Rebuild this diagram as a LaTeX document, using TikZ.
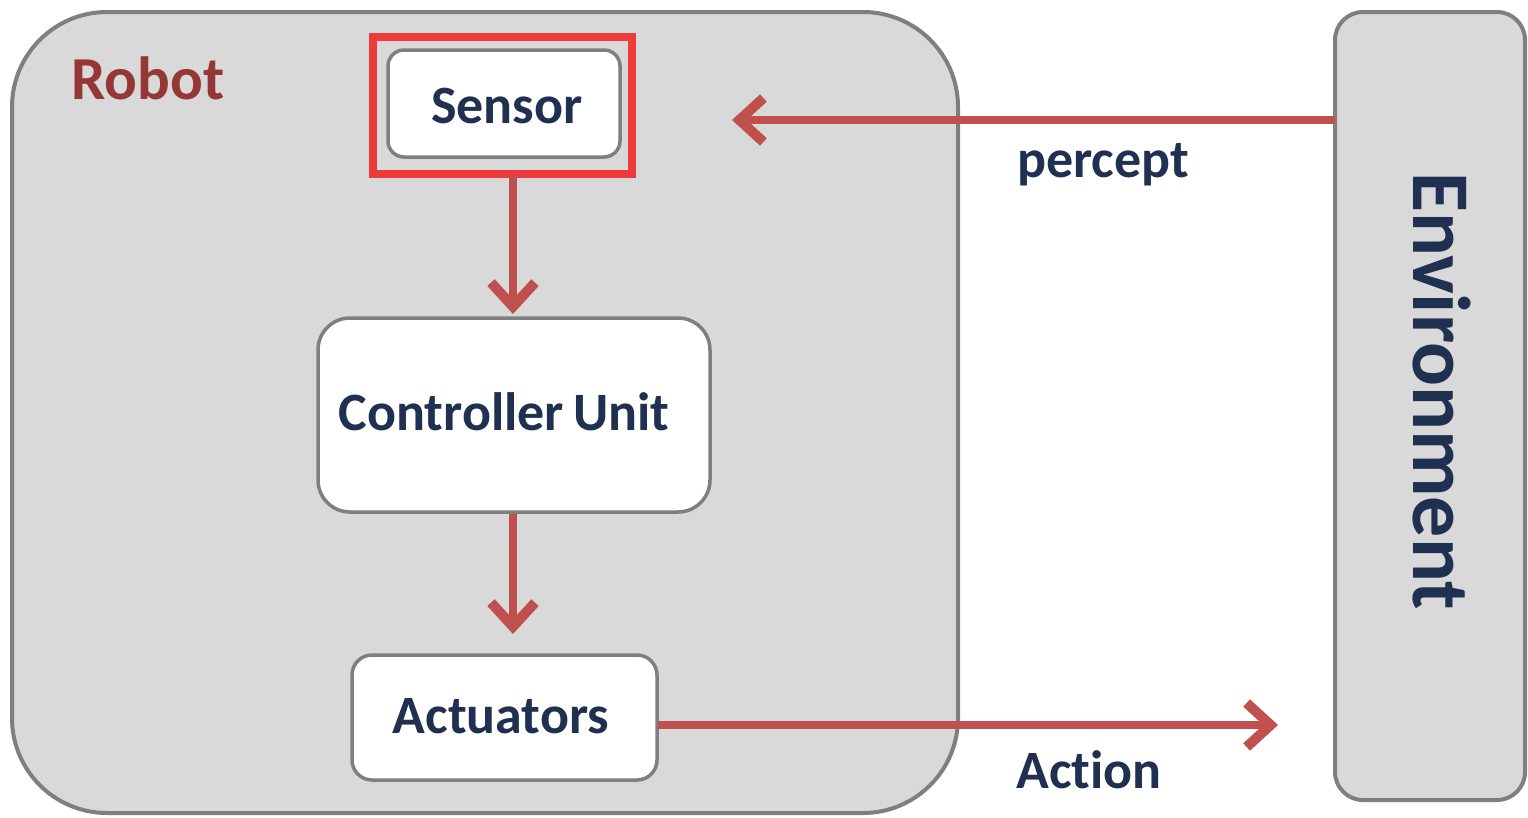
\documentclass[tikz,border=0pt]{standalone}
\usepackage{fontspec}
\setmainfont{Carlito}[Ligatures=NoCommon]
\usetikzlibrary{arrows.meta}
\definecolor{boxgray}{HTML}{D9D9D9}
\definecolor{edgegray}{HTML}{7F7F7F}
\definecolor{arrowred}{HTML}{C0504D}
\definecolor{hlred}{HTML}{EE3A3A}
\definecolor{navy}{HTML}{1F3050}
\definecolor{robotred}{HTML}{953735}
\tikzset{
  inbox/.style={draw=edgegray, line width=3.5pt, fill=white},
  flow/.style={draw=arrowred, line width=8pt, -{Straight Barb[length=24pt,width=44pt,line width=10pt]}},
  lbl/.style={text=navy, font=\fontsize{54}{58}\selectfont\bfseries}
}
\begin{document}
\begin{tikzpicture}[x=1pt,y=-1pt]
\useasboundingbox (0,0) rectangle (1528,817);
\fill[white] (0,0) rectangle (1528,817);
% Robot container
\draw[draw=edgegray, line width=4pt, fill=boxgray, rounded corners=95pt] (12,12) rectangle (958,813);
\node[text=robotred, font=\fontsize{61}{64}\selectfont\bfseries] (robot) at (148,78) {Robot};
% Environment
\draw[draw=edgegray, line width=4pt, fill=boxgray, rounded corners=28pt] (1335,12) rectangle (1525,800);
\node[text=navy, font=\fontsize{82}{84}\selectfont\bfseries, rotate=-90] (env) at (1442,391) {Environment};
\coordinate (envL1) at (1335,120);
\coordinate (envL2) at (1278,725);
% inner boxes
\path[inbox, rounded corners=16pt] (388,50) rectangle (620,157);
\node[lbl] (sensor) at (507,106) {Sensor};
\coordinate (sensorB) at (513,175);
\path[inbox, rounded corners=32pt] (318,318) rectangle (710,512);
\node[lbl] (ctrl) at (504,412) {Controller\,Unit};
\coordinate (ctrlT) at (513,314);
\coordinate (ctrlB) at (513,514);
\path[inbox, rounded corners=20pt] (352,655) rectangle (657,780);
\node[lbl] (act) at (501,716) {Actuators};
\coordinate (actT) at (513,634);
\coordinate (actR) at (658,725);
% highlight
\draw[hlred, line width=8pt] (373,37) rectangle (632,174);
% arrows
\draw[flow] (sensorB) -- (ctrlT);
\draw[flow] (ctrlB) -- (actT);
\coordinate (perceptEnd) at (732,120);
\draw[flow] (envL1) -- (perceptEnd);
\draw[flow] (actR) -- (envL2);
\node[lbl] (percept) at (1103,165) {percept};
\node[lbl] (action) at (1089,770) {Action};
\end{tikzpicture}
\end{document}
